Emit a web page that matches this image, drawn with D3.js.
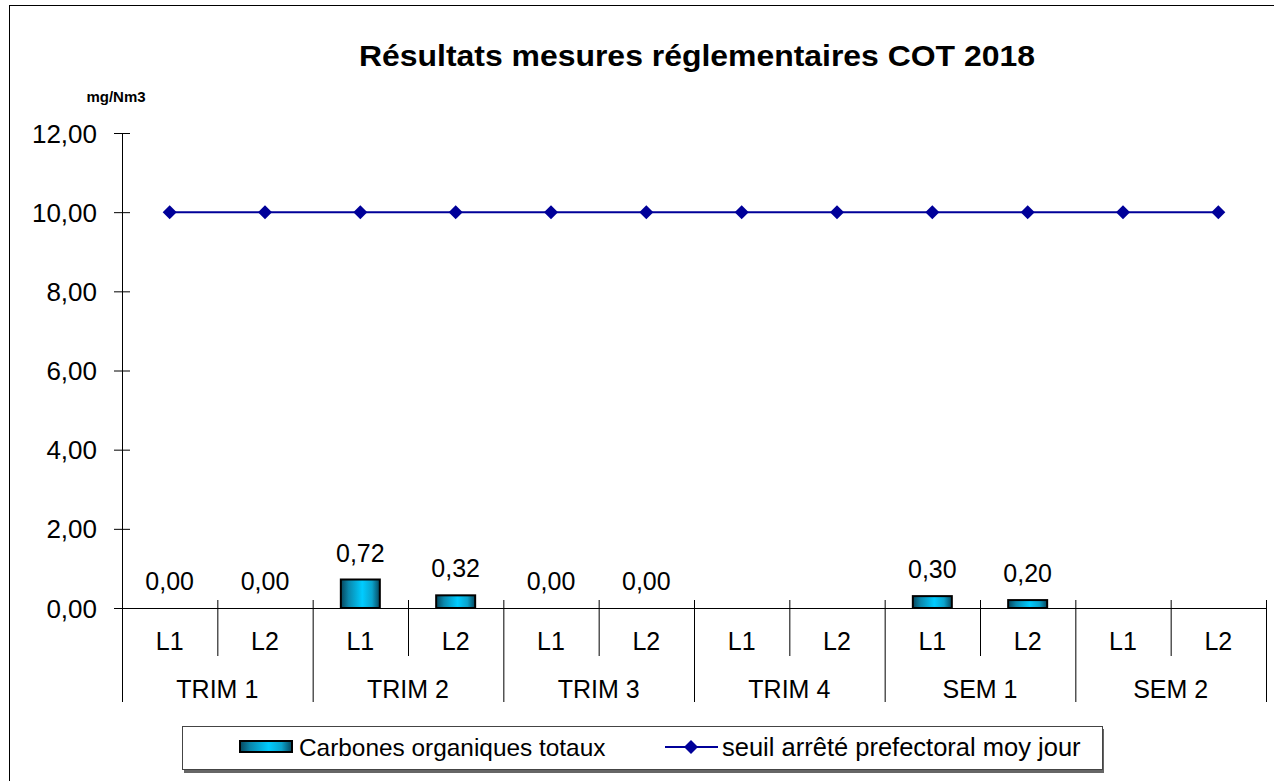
<!DOCTYPE html>
<html><head><meta charset="utf-8">
<script src="https://cdn.jsdelivr.net/npm/d3@7"></script>
<style>body{margin:0;background:#fff}svg{display:block;font-family:Arial,"Liberation Sans",sans-serif}</style>
</head><body><svg id="c" width="1274" height="781"></svg>
<script>
const groups = ["TRIM 1","TRIM 2","TRIM 3","TRIM 4","SEM 1","SEM 2"];
const lines = ["L1","L2"];
const cotValues = [0.00,0.00,0.72,0.32,0.00,0.00,null,null,0.30,0.20,null,null];
const seuilValues = [10,10,10,10,10,10,10,10,10,10,10,10];
const yTicks = [0,2,4,6,8,10,12];
const title = "Résultats mesures réglementaires COT 2018";
const unit = "mg/Nm3";
const legendLabels = ["Carbones organiques totaux","seuil arrêté prefectoral moy jour"];

const cats = [];
groups.forEach(g => lines.forEach(l => cats.push(g + "|" + l)));

const svg = d3.select("#c");
const X0 = 122, X1 = 1266, Y0 = 608, Y1 = 133;
const x = d3.scaleBand().domain(cats).range([X0, X1]);
const y = d3.scaleLinear().domain([0, 12]).range([Y0, Y1]);
const fmt = v => d3.format(".2f")(v).replace(".", ",");
const FS = 25;

// outer border
svg.append("rect").attr("x",9.5).attr("y",5.5).attr("width",1270).attr("height",790)
  .attr("fill","none").attr("stroke","#000").attr("stroke-width",1);

// gradient
const defs = svg.append("defs");
const gr = defs.append("linearGradient").attr("id","barg").attr("x1","0").attr("x2","1").attr("y1","0").attr("y2","0");
[[0,"#06465c"],[0.2,"#0a88ad"],[0.55,"#00ccff"],[0.8,"#0aa3cc"],[1,"#06465c"]].forEach(s=>gr.append("stop").attr("offset",s[0]).attr("stop-color",s[1]));

// title
svg.append("text").attr("x",697).attr("y",66).attr("text-anchor","middle")
  .attr("font-size",30).attr("font-weight","bold")
  .attr("textLength",676).attr("lengthAdjust","spacingAndGlyphs").text(title);
svg.append("text").attr("x",116).attr("y",102).attr("text-anchor","middle")
  .attr("font-size",15).attr("font-weight","bold").text(unit);

// y axis
const yAxis = d3.axisLeft(y).tickValues(yTicks).tickFormat(fmt).tickSizeInner(8).tickSizeOuter(0);
const ya = svg.append("g").attr("transform",`translate(${X0},0)`).call(yAxis);
ya.select(".domain").attr("stroke","#000").attr("stroke-width",1);
ya.selectAll(".tick line").attr("x1",-8).attr("x2",8).attr("stroke","#000");
ya.selectAll(".tick text").attr("font-size",26).attr("fill","#000")
  .attr("font-family","Arial, 'Liberation Sans', sans-serif").attr("dy","0.35em").attr("x",-25);

// x axis line
svg.append("line").attr("x1",X0-8).attr("x2",X1).attr("y1",Y0+0.5).attr("y2",Y0+0.5).attr("stroke","#000");

// category separators
const bw = x.bandwidth();
cats.forEach((c,i)=>{
  const xe = x(c) + bw;
  const isGroup = (i % 2 === 1);
  svg.append("line").attr("x1",xe+0.5).attr("x2",xe+0.5).attr("y1",600).attr("y2",isGroup?702:656).attr("stroke","#000");
});
svg.append("line").attr("x1",X0+0.5).attr("x2",X0+0.5).attr("y1",Y0).attr("y2",702).attr("stroke","#000");

// L labels
cats.forEach(c=>{
  svg.append("text").attr("x",x(c)+bw/2).attr("y",650).attr("text-anchor","middle")
    .attr("font-size",FS).text(c.split("|")[1]);
});
groups.forEach((g,i)=>{
  const xs = x(g+"|L1"), xe = x(g+"|L2")+bw;
  svg.append("text").attr("x",(xs+xe)/2).attr("y",698).attr("text-anchor","middle")
    .attr("font-size",FS).text(g);
});

// bars
const barW = 39;
cats.forEach((c,i)=>{
  const v = cotValues[i];
  if (v === null) return;
  const cx = x(c)+bw/2;
  if (v > 0) {
    svg.append("rect").attr("x",cx-barW/2).attr("y",y(v)).attr("width",barW).attr("height",Y0-y(v))
      .attr("fill","url(#barg)").attr("stroke","#000").attr("stroke-width",2);
  }
  svg.append("text").attr("x",cx).attr("y",y(v)-18).attr("text-anchor","middle")
    .attr("font-size",FS).text(fmt(v));
});

// line
const line = d3.line().x((d,i)=>x(cats[i])+bw/2).y(d=>y(d));
svg.append("path").datum(seuilValues).attr("d",line).attr("fill","none").attr("stroke","#000099").attr("stroke-width",2);
const diamond = d3.symbol().type(d3.symbolDiamond2).size(125);
seuilValues.forEach((v,i)=>{
  svg.append("path").attr("d",diamond).attr("transform",`translate(${x(cats[i])+bw/2},${y(v)})`).attr("fill","#000099");
});

// legend
svg.append("rect").attr("x",184).attr("y",729).attr("width",920).attr("height",44).attr("fill","#666");
svg.append("rect").attr("x",182.5).attr("y",726.5).attr("width",920).attr("height",43).attr("fill","#fff").attr("stroke","#444").attr("stroke-width",1);
svg.append("rect").attr("x",240).attr("y",741).attr("width",52).attr("height",11).attr("fill","url(#barg)").attr("stroke","#000").attr("stroke-width",2);
svg.append("text").attr("x",299).attr("y",756).attr("font-size",24.4).text(legendLabels[0]);
svg.append("line").attr("x1",665).attr("x2",718).attr("y1",747).attr("y2",747).attr("stroke","#000099").attr("stroke-width",2);
svg.append("path").attr("d",diamond).attr("transform","translate(691,747)").attr("fill","#000099");
svg.append("text").attr("x",722).attr("y",756).attr("font-size",25.5).text(legendLabels[1]);
</script></body></html>
